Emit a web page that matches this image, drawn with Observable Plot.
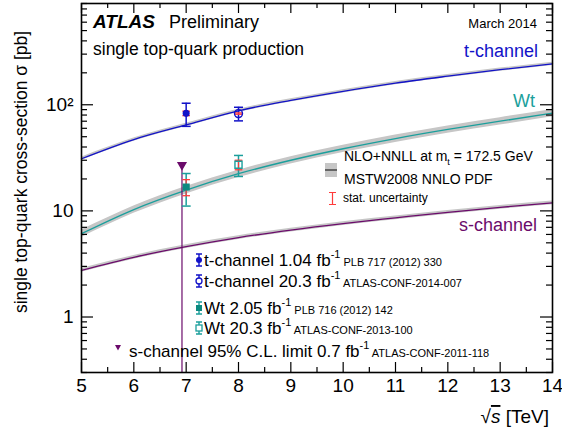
<!DOCTYPE html>
<html><head><meta charset="utf-8">
<script src="https://cdn.jsdelivr.net/npm/d3@7"></script>
<script src="https://cdn.jsdelivr.net/npm/@observablehq/plot@0.6"></script>
<style>body{margin:0;background:#fff}#c{width:562px;height:436px}</style>
</head><body><div id="c"></div>
<script>
// ---- data ----
const energies = [5,6,7,8,9,10,11,12,13,14];
const tTheory  = [31,47,64.6,87.8,110,134,160,186,214,243];
const wtTheory = [6.1,10.3,15.7,22.4,30,38.5,48,58.5,70,83.6];
const sTheory  = [2.75,3.65,4.6,5.6,6.6,7.6,8.6,9.7,10.8,11.9];
const bandRel  = {t:0.035, wt:0.08, s:0.04};

const measNames = ["t-channel 1.04 fb-1","t-channel 20.3 fb-1","Wt 2.05 fb-1","Wt 20.3 fb-1"];
const measE     = [7, 8, 7, 8];
const measVal   = [83, 82.6, 16.8, 27.2];
const measStat  = [4, 1.2, 2.9, 2.8];
const measTot   = [20.4, 12.1, 5.7, 6.1];

const sLimitE = [6.92];
const sLimitVal = [26.5];

const xMajor = [5,6,7,8,9,10,11,12,13,14];
const xMinor = [5.5,6.5,7.5,8.5,9.5,10.5,11.5,12.5,13.5];
const yMajor = [1,10,100];
const yMajorLabels = ["1","10","10\u00B2"];
const yMinor = [0.3,0.4,0.5,0.6,0.7,0.8,0.9,2,3,4,5,6,7,8,9,20,30,40,50,60,70,80,90,200,300,400,500,600,700,800,900];

// ---- styles ----
const W=562,H=436,mL=81,mR=10,mT=3,mB=64;
const innerW=W-mL-mR, innerH=H-mT-mB;
const blue="#1212c8", teal="#1b9f9c", tealDark="#0b8a80", purple="#6b0b6b", red="#ff3b3b", gray="#c6c6c6";
const font="Liberation Sans, Arial, Helvetica, sans-serif";

const theory = (vals, ch) => energies.map((e,i)=>({e, v:vals[i], lo:vals[i]*(1-bandRel[ch]), hi:vals[i]*(1+bandRel[ch])}));
const tRows = theory(tTheory,"t"), wtRows = theory(wtTheory,"wt"), sRows = theory(sTheory,"s");

const measColor = [blue, blue, teal, teal];
const meas = measNames.map((n,i)=>({n, e:measE[i], v:measVal[i], stat:measStat[i], tot:measTot[i], c:measColor[i]}));
const caps = meas.flatMap(d=>[{e:d.e, y:d.v-d.tot, c:d.c},{e:d.e, y:d.v+d.tot, c:d.c}]);
const statCaps = meas.flatMap(d=>[{e:d.e, y:d.v-d.stat},{e:d.e, y:d.v+d.stat}]);
const sLim = sLimitE.map((e,i)=>({e, v:sLimitVal[i]}));

const capSym = {draw(ctx,size){const w=Math.sqrt(size/Math.PI);ctx.moveTo(-w,0);ctx.lineTo(w,0);}};

const chart = Plot.plot({
  width:W, height:H, marginLeft:mL, marginRight:mR, marginTop:mT, marginBottom:mB,
  style:{fontFamily:font, background:"white", overflow:"visible"},
  x:{type:"linear", domain:[5,14]},
  y:{type:"log", domain:[0.3,900]},
  color:{type:"identity"},
  marks:[
    Plot.areaY(tRows,{x:"e",y1:"lo",y2:"hi",fill:gray,curve:"monotone-x"}),
    Plot.areaY(wtRows,{x:"e",y1:"lo",y2:"hi",fill:gray,curve:"monotone-x"}),
    Plot.areaY(sRows,{x:"e",y1:"lo",y2:"hi",fill:gray,curve:"monotone-x"}),
    Plot.line(tRows,{x:"e",y:"v",stroke:blue,strokeWidth:1.3,curve:"monotone-x"}),
    Plot.line(wtRows,{x:"e",y:"v",stroke:teal,strokeWidth:1.3,curve:"monotone-x"}),
    Plot.line(sRows,{x:"e",y:"v",stroke:purple,strokeWidth:1.3,curve:"monotone-x"}),
    // s-channel limit
    Plot.ruleX(sLim,{x:"e",y1:0.3,y2:"v",stroke:purple,strokeWidth:1.2}),
    Plot.dot(sLim,{x:"e",y:"v",symbol:"triangle",rotate:180,r:2.8,fill:purple,stroke:purple,dy:-1}),
    // total error bars
    Plot.ruleX(meas,{x:"e",y1:d=>d.v-d.tot,y2:d=>d.v+d.tot,stroke:"c",strokeWidth:1.5}),
    Plot.dot(caps,{x:"e",y:"y",symbol:capSym,r:4.5,stroke:"c",strokeWidth:1.5}),
    // stat error bars
    Plot.ruleX(meas,{x:"e",y1:d=>d.v-d.stat,y2:d=>d.v+d.stat,stroke:red,strokeWidth:1.2}),
    Plot.dot(statCaps,{x:"e",y:"y",symbol:capSym,r:3.8,stroke:red,strokeWidth:1.3}),
    // markers
    Plot.dot(meas.filter((d,i)=>i===0),{x:"e",y:"v",symbol:"circle",r:2.8,fill:blue,stroke:blue}),
    Plot.dot(meas.filter((d,i)=>i===1),{x:"e",y:"v",symbol:"circle",r:4,fill:"none",stroke:blue,strokeWidth:1.4}),
    Plot.dot(meas.filter((d,i)=>i===2),{x:"e",y:"v",symbol:"square",r:3.2,fill:tealDark,stroke:tealDark}),
    Plot.dot(meas.filter((d,i)=>i===3),{x:"e",y:"v",symbol:"square",r:4,fill:"none",stroke:teal,strokeWidth:1.4}),
    // inward ticks
    Plot.tickX(xMajor,{x:d=>d,insetTop:innerH-10,stroke:"black",strokeWidth:1.2}),
    Plot.tickX(xMajor,{x:d=>d,insetBottom:innerH-10,stroke:"black",strokeWidth:1.2}),
    Plot.tickX(xMinor,{x:d=>d,insetTop:innerH-5,stroke:"black",strokeWidth:1.2}),
    Plot.tickX(xMinor,{x:d=>d,insetBottom:innerH-5,stroke:"black",strokeWidth:1.2}),
    Plot.tickY(yMajor,{y:d=>d,insetRight:innerW-12,stroke:"black",strokeWidth:1.2}),
    Plot.tickY(yMajor,{y:d=>d,insetLeft:innerW-12,stroke:"black",strokeWidth:1.2}),
    Plot.tickY(yMinor,{y:d=>d,insetRight:innerW-6,stroke:"black",strokeWidth:1.2}),
    Plot.tickY(yMinor,{y:d=>d,insetLeft:innerW-6,stroke:"black",strokeWidth:1.2}),
    Plot.frame({stroke:"black",strokeWidth:1.6}),
    Plot.axisX({ticks:xMajor,tickSize:0,tickPadding:6,fontSize:19,label:null,tickFormat:d=>String(d)}),
    Plot.axisY({ticks:yMajor,tickSize:0,tickPadding:8,fontSize:19,label:null,tickFormat:d=>yMajorLabels[yMajor.indexOf(d)]})
  ]
});
document.getElementById("c").appendChild(chart);

// ---- annotations / legend ----
const svg = d3.select(chart);
const g = svg.append("g").attr("font-family",font);
function text(x,y,parts,opts={}){
  const t=g.append("text").attr("x",x).attr("y",y).attr("fill",opts.fill||"black")
    .attr("font-size",opts.size||17).attr("text-anchor",opts.anchor||"start");
  if(opts.transform) t.attr("transform",opts.transform);
  for(const p of parts){
    const s=t.append("tspan").text(p.t);
    if(p.size) s.attr("font-size",p.size);
    if(p.dy) s.attr("dy",p.dy);
    if(p.weight) s.attr("font-weight",p.weight);
    if(p.style) s.attr("font-style",p.style);
    if(p.deco) s.attr("text-decoration",p.deco);
    if(p.dx) s.attr("dx",p.dx);
  }
  return t;
}
text(93,28,[{t:"ATLAS",weight:"bold",style:"italic",size:19},{t:"  Preliminary",dx:4}],{size:18});
text(93,55,[{t:"single top-quark production"}],{size:17.5});
text(537,28,[{t:"March 2014"}],{size:13,anchor:"end"});
text(538,57,[{t:"t-channel"}],{size:18,fill:blue,anchor:"end"});
text(535,107,[{t:"Wt"}],{size:18,fill:teal,anchor:"end"});
text(537,231,[{t:"s-channel"}],{size:18,fill:purple,anchor:"end"});

// theory legend
g.append("rect").attr("x",325).attr("y",163).attr("width",12).attr("height",14).attr("fill",gray);
g.append("line").attr("x1",325).attr("x2",337).attr("y1",170).attr("y2",170).attr("stroke","#444").attr("stroke-width",1.5);
text(344,161,[{t:"NLO+NNLL at m"},{t:"t",size:9,dy:4},{t:" = 172.5 GeV",dy:-4}],{size:14});
text(344,184,[{t:"MSTW2008 NNLO PDF"}],{size:14});
g.append("path").attr("d","M329,192.5h7M332.5,192.5v12M329,204.5h7").attr("stroke",red).attr("stroke-width",1.2).attr("fill","none");
text(343,202,[{t:"stat. uncertainty"}],{size:12});

// measurement legend
function bar(x,cy,c){g.append("path").attr("d",`M${x-3},${cy-6}h6M${x},${cy-6}v12M${x-3},${cy+6}h6`).attr("stroke",c).attr("stroke-width",1.4).attr("fill","none");}
const rows=[
  {y:266,main:"t-channel 1.04 fb",ref:"PLB 717 (2012) 330",c:blue,m:"fc"},
  {y:287,main:"t-channel 20.3 fb",ref:"ATLAS-CONF-2014-007",c:blue,m:"oc"},
  {y:314,main:"Wt 2.05 fb",ref:"PLB 716 (2012) 142",c:teal,m:"fs"},
  {y:334,main:"Wt 20.3 fb",ref:"ATLAS-CONF-2013-100",c:teal,m:"os"}
];
for(const r of rows){
  const cy=r.y-6, x=199;
  bar(x,cy,r.c);
  if(r.m==="fc") g.append("circle").attr("cx",x).attr("cy",cy).attr("r",3).attr("fill",r.c);
  if(r.m==="oc") g.append("circle").attr("cx",x).attr("cy",cy).attr("r",3).attr("fill","white").attr("stroke",r.c).attr("stroke-width",1.3);
  if(r.m==="fs") g.append("rect").attr("x",x-3).attr("y",cy-3).attr("width",6).attr("height",6).attr("fill",tealDark);
  if(r.m==="os") g.append("rect").attr("x",x-3).attr("y",cy-3).attr("width",6).attr("height",6).attr("fill","white").attr("stroke",r.c).attr("stroke-width",1.3);
  text(204,r.y,[{t:r.main},{t:"-1",size:11,dy:-8},{t:" "+r.ref,size:11,dy:8}],{size:17});
}
g.append("path").attr("d","M115,345h6l-3,5.5z").attr("fill",purple);
text(129,357,[{t:"s-channel 95% C.L. limit 0.7 fb"},{t:"-1",size:11,dy:-8},{t:" ATLAS-CONF-2011-118",size:11,dy:8}],{size:17});

// axis titles
text(549,423,[{t:"\u221A"},{t:"s",style:"italic",deco:"overline"},{t:" [TeV]"}],{size:19,anchor:"end"});
text(0,0,[{t:"single top-quark cross-section \u03C3 [pb]"}],{size:17.5,anchor:"middle",transform:"translate(27,172) rotate(-90)"});
</script>
</body></html>
